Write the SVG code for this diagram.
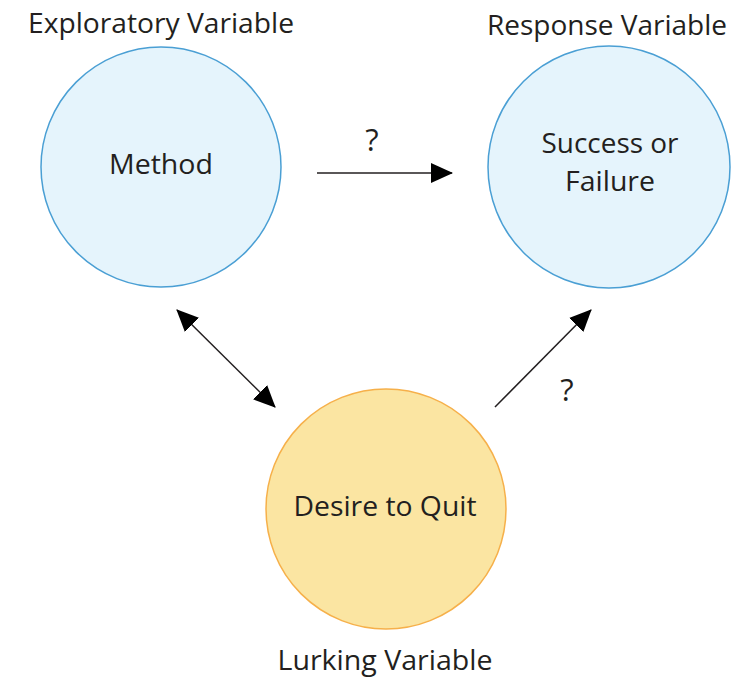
<svg xmlns="http://www.w3.org/2000/svg" width="731" height="679" viewBox="0 0 731 679">
<defs>
<style>
.t{font-family:"Open Sans","Noto Sans",sans-serif;font-size:27px;fill:#231f20;text-anchor:middle}
.q{font-size:31px}
.blue{fill:#e5f4fc;stroke:#4a9fd4;stroke-width:1.5}
.yel{fill:#fbe5a2;stroke:#f6b04a;stroke-width:1.5}
.c{stroke:#231f20;stroke-width:1.5;fill:none}
</style>
<marker id="ah2" viewBox="0 0 22 20" refX="21" refY="10" markerWidth="22" markerHeight="20" orient="auto-start-reverse" markerUnits="userSpaceOnUse">
<path d="M0,0 L22,10 L0,20 Z" fill="#000"/>
</marker>
</defs>
<rect width="731" height="679" fill="#fff"/>
<g id="connectors">
<line class="c" x1="317" y1="173" x2="452" y2="173" marker-end="url(#ah2)"/>
<line class="c" x1="177" y1="310" x2="275" y2="407" marker-start="url(#ah2)" marker-end="url(#ah2)"/>
<line class="c" x1="495" y1="407" x2="591" y2="310" marker-end="url(#ah2)"/>
<text class="t q" x="372" y="151">?</text>
<text class="t q" x="567" y="401">?</text>
</g>
<g id="method">
<circle class="blue" cx="161" cy="167" r="120"/>
<text class="t" x="161" y="174" textLength="104" lengthAdjust="spacingAndGlyphs">Method</text>
<text class="t" x="161" y="33" textLength="266" lengthAdjust="spacingAndGlyphs">Exploratory Variable</text>
</g>
<g id="success">
<circle class="blue" cx="609" cy="167" r="121"/>
<text class="t" x="610" y="153" textLength="137" lengthAdjust="spacingAndGlyphs">Success or</text>
<text class="t" x="610" y="191" textLength="90" lengthAdjust="spacingAndGlyphs">Failure</text>
<text class="t" x="607" y="35" textLength="240" lengthAdjust="spacingAndGlyphs">Response Variable</text>
</g>
<g id="desire">
<circle class="yel" cx="386" cy="509" r="120"/>
<text class="t" x="385" y="516" textLength="183" lengthAdjust="spacingAndGlyphs">Desire to Quit</text>
<text class="t" x="385" y="670" textLength="215" lengthAdjust="spacingAndGlyphs">Lurking Variable</text>
</g>
</svg>
